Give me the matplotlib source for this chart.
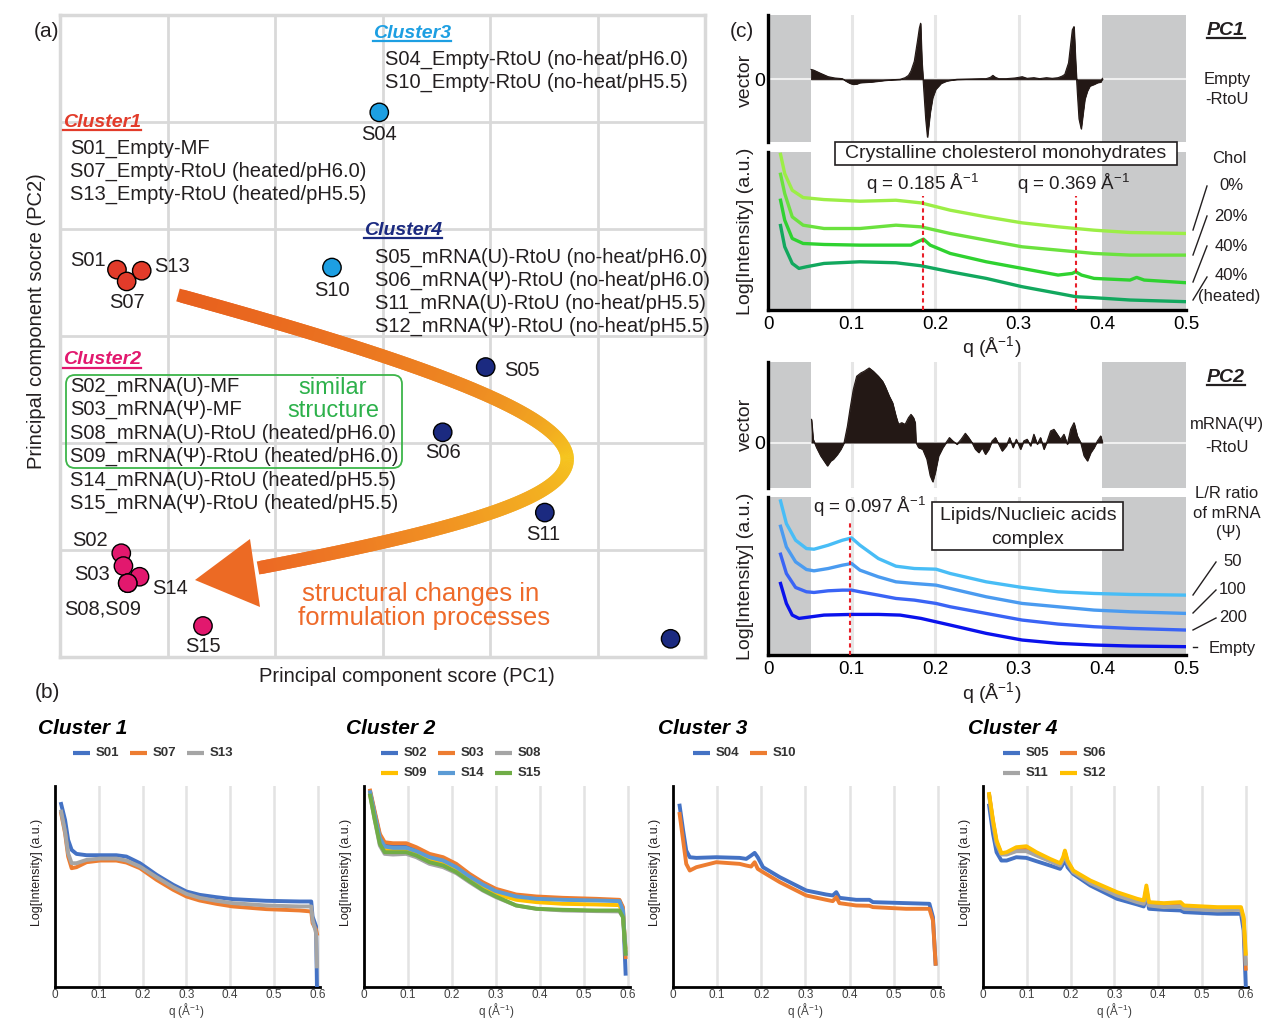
import numpy as np
import matplotlib
matplotlib.use('Agg')
import matplotlib.pyplot as plt
from matplotlib.collections import LineCollection
from matplotlib.patches import FancyBboxPatch, Polygon, Rectangle
from matplotlib.colors import LinearSegmentedColormap

plt.rcParams['font.family'] = ['Liberation Sans', 'DejaVu Sans']
plt.rcParams['mathtext.fontset'] = 'custom'
plt.rcParams['mathtext.rm'] = 'Liberation Sans'
plt.rcParams['mathtext.it'] = 'Liberation Sans:italic'
plt.rcParams['mathtext.bf'] = 'Liberation Sans:bold'

INK = '#231F20'
W, H = 1262, 1018

# ======================= DATA =======================
# (a) PCA scores (grid units)
pca_samples = ['S01', 'S07', 'S13', 'S04', 'S10', 'S05', 'S06', 'S11', 'S12',
               'S02', 'S03', 'S14', 'S08', 'S09', 'S15']
pca_cluster = [1, 1, 1, 3, 3, 4, 4, 4, 4, 2, 2, 2, 2, 2, 2]
pc1_score = [0.53, 0.62, 0.76, 2.97, 2.53, 3.96, 3.56, 4.51, 5.68,
             0.57, 0.59, 0.74, 0.63, 0.63, 1.33]
pc2_score = [3.62, 3.51, 3.61, 5.09, 3.64, 2.71, 2.10, 1.35, 0.17,
             0.97, 0.85, 0.75, 0.69, 0.69, 0.29]
cluster_colors = {1: '#E23B2A', 2: '#E2186E', 3: '#1D9FE2', 4: '#1B2A80'}

# (c) PC1 loading vector
pc1_vector = [(0.0515, 0.30), (0.0545, 0.28), (0.063, 0.18), (0.072, 0.08), (0.080, 0.04),
              (0.089, 0.02), (0.093, -0.05), (0.098, -0.12), (0.102, -0.15), (0.106, -0.14),
              (0.110, -0.10), (0.116, -0.09), (0.123, -0.08), (0.130, -0.06), (0.140, -0.03),
              (0.150, -0.01), (0.158, 0.00), (0.164, 0.05), (0.168, 0.12), (0.171, 0.25),
              (0.175, 0.55), (0.179, 1.20), (0.181, 1.55), (0.1825, 1.70), (0.184, 0.60),
              (0.186, -0.20), (0.1886, -1.20), (0.1907, -1.75), (0.194, -1.00), (0.197, -0.55),
              (0.2006, -0.30), (0.207, -0.12), (0.2135, -0.05), (0.220, -0.02), (0.226, 0.00),
              (0.240, 0.01), (0.255, 0.02), (0.261, 0.02), (0.266, 0.06), (0.269, 0.12),
              (0.272, 0.06), (0.276, 0.02), (0.285, 0.02), (0.295, 0.04), (0.300, 0.06),
              (0.304, 0.08), (0.310, 0.03), (0.318, 0.05), (0.325, 0.02), (0.333, 0.05),
              (0.340, 0.03), (0.347, 0.05), (0.352, 0.10), (0.355, 0.15), (0.3595, 0.50),
              (0.364, 1.50), (0.366, 1.60), (0.368, 0.50), (0.370, -0.40), (0.372, -1.20),
              (0.3746, -1.50), (0.377, -1.00), (0.379, -0.60), (0.382, -0.35), (0.385, -0.20),
              (0.390, -0.15), (0.394, -0.10), (0.398, -0.08), (0.400, 0.03)]

# (c) PC2 loading vector
pc2_vector = [(0.052, 0.70), (0.054, 0.10), (0.058, -0.15), (0.063, -0.40), (0.067, -0.55),
              (0.071, -0.70), (0.075, -0.55), (0.078, -0.50), (0.083, -0.35), (0.087, -0.20),
              (0.091, 0.00), (0.095, 0.50), (0.098, 1.00), (0.102, 1.60), (0.106, 2.00),
              (0.111, 2.10), (0.115, 2.15), (0.121, 2.25), (0.126, 2.15), (0.132, 2.00),
              (0.137, 1.85), (0.140, 1.70), (0.145, 1.40), (0.149, 1.20), (0.153, 0.80),
              (0.156, 0.55), (0.160, 0.60), (0.164, 0.55), (0.168, 0.75), (0.171, 0.85),
              (0.174, 0.75), (0.176, 0.60), (0.177, 0.00), (0.180, -0.15), (0.185, -0.20),
              (0.190, -0.50), (0.194, -1.00), (0.197, -1.18), (0.200, -0.90), (0.204, -0.40),
              (0.209, -0.15), (0.213, 0.00), (0.217, 0.15), (0.221, 0.05), (0.226, -0.05),
              (0.231, 0.10), (0.236, 0.28), (0.240, 0.15), (0.244, 0.00), (0.248, -0.20),
              (0.252, -0.30), (0.256, -0.15), (0.260, -0.35), (0.264, -0.20), (0.268, 0.05),
              (0.272, 0.15), (0.276, -0.05), (0.280, -0.25), (0.285, -0.10), (0.289, 0.15),
              (0.293, -0.15), (0.297, 0.10), (0.302, -0.20), (0.306, 0.05), (0.310, 0.10),
              (0.314, -0.10), (0.318, 0.25), (0.322, -0.05), (0.326, 0.15), (0.330, -0.20),
              (0.334, 0.05), (0.338, 0.35), (0.342, 0.40), (0.346, 0.25), (0.350, 0.10),
              (0.354, 0.25), (0.358, -0.05), (0.362, 0.40), (0.366, 0.60), (0.370, 0.20),
              (0.374, 0.00), (0.378, -0.40), (0.382, -0.55), (0.386, -0.30), (0.390, -0.15),
              (0.394, 0.05), (0.398, 0.20), (0.400, 0.00)]

# (c) PC1 SAXS profiles (cholesterol series)
q_chol = [0.015, 0.020, 0.029, 0.042, 0.067, 0.110, 0.153, 0.183, 0.218, 0.261, 0.304,
          0.347, 0.390, 0.433, 0.500]
chol_0 = [4.68, 4.10, 3.60, 3.38, 3.32, 3.27, 3.30, 3.22, 3.00, 2.80, 2.62, 2.50, 2.40, 2.33, 2.30]
chol_20 = [4.08, 3.50, 2.80, 2.55, 2.45, 2.45, 2.55, 2.50, 2.30, 2.10, 1.90, 1.80, 1.70, 1.65, 1.65]
q_chol40 = [0.015, 0.020, 0.029, 0.042, 0.067, 0.110, 0.153, 0.171, 0.179, 0.186, 0.194, 0.218,
            0.261, 0.304, 0.347, 0.364, 0.368, 0.375, 0.390, 0.433, 0.441, 0.450, 0.500]
chol_40 = [3.30, 2.70, 2.15, 2.00, 1.97, 1.95, 1.95, 1.95, 2.05, 2.13, 1.95, 1.70,
           1.45, 1.25, 1.05, 1.10, 1.15, 1.05, 0.95, 0.90, 0.98, 0.90, 0.82]
q_chol40h = [0.015, 0.020, 0.029, 0.037, 0.046, 0.067, 0.110, 0.153, 0.183, 0.218, 0.261,
             0.304, 0.347, 0.368, 0.390, 0.433, 0.500]
chol_40h = [2.54, 1.90, 1.40, 1.25, 1.30, 1.40, 1.45, 1.42, 1.33, 1.15, 0.95,
            0.70, 0.50, 0.40, 0.37, 0.30, 0.25]

# (c) PC2 SAXS profiles (L/R ratio series)
q_lr = [0.015, 0.022, 0.033, 0.046, 0.055, 0.072, 0.089, 0.100, 0.110, 0.132, 0.153, 0.175,
        0.201, 0.218, 0.261, 0.304, 0.347, 0.390, 0.433, 0.500]
lr_50 = [4.63, 3.95, 3.45, 3.20, 3.18, 3.30, 3.45, 3.52, 3.30, 2.90, 2.67, 2.60,
         2.58, 2.45, 2.20, 2.03, 1.90, 1.85, 1.82, 1.80]
lr_100 = [3.87, 3.25, 2.80, 2.57, 2.53, 2.60, 2.70, 2.75, 2.55, 2.35, 2.20, 2.15,
          2.10, 2.00, 1.75, 1.55, 1.45, 1.35, 1.30, 1.25]
lr_200 = [3.03, 2.45, 2.03, 1.90, 1.88, 1.93, 1.95, 1.95, 1.90, 1.80, 1.70, 1.65,
          1.55, 1.45, 1.25, 1.05, 0.93, 0.85, 0.80, 0.75]
q_empty = [0.015, 0.022, 0.029, 0.037, 0.046, 0.067, 0.100, 0.132, 0.158, 0.183, 0.218,
           0.261, 0.304, 0.347, 0.390, 0.433, 0.500]
lr_empty = [2.15, 1.55, 1.20, 1.10, 1.13, 1.20, 1.22, 1.22, 1.20, 1.10, 0.90,
            0.65, 0.45, 0.35, 0.30, 0.27, 0.25]

# (b) Cluster profiles
q_c1 = [0.014, 0.023, 0.030, 0.038, 0.049, 0.072, 0.103, 0.140, 0.163, 0.194, 0.232,
        0.270, 0.300, 0.330, 0.368, 0.406, 0.482, 0.558, 0.585, 0.588, 0.596, 0.598]
c1_S01 = [5.50, 5.02, 4.42, 4.12, 4.00, 3.96, 3.96, 3.96, 3.92, 3.72, 3.37,
          3.07, 2.87, 2.77, 2.70, 2.64, 2.59, 2.57, 2.57, 2.12, 1.82, 0.02]
c1_S07 = [5.22, 4.62, 3.92, 3.57, 3.60, 3.75, 3.80, 3.80, 3.74, 3.57, 3.22,
          2.92, 2.72, 2.60, 2.50, 2.42, 2.34, 2.30, 2.27, 1.92, 1.72, 1.60]
c1_S13 = [5.27, 4.67, 4.02, 3.72, 3.72, 3.82, 3.86, 3.86, 3.80, 3.62, 3.30,
          3.00, 2.80, 2.68, 2.59, 2.52, 2.45, 2.42, 2.42, 2.02, 1.62, 0.62]

q_c2 = [0.014, 0.024, 0.036, 0.047, 0.066, 0.096, 0.119, 0.149, 0.180, 0.210, 0.240,
        0.270, 0.300, 0.346, 0.392, 0.452, 0.528, 0.581, 0.589, 0.595]
c2_S02 = [5.85, 5.25, 4.55, 4.30, 4.28, 4.28, 4.15, 3.96, 3.86, 3.66, 3.37,
          3.12, 2.92, 2.75, 2.68, 2.64, 2.62, 2.60, 2.35, 0.40]
c2_S03 = [5.90, 5.30, 4.60, 4.35, 4.32, 4.32, 4.20, 4.00, 3.90, 3.70, 3.40,
          3.15, 2.95, 2.78, 2.72, 2.68, 2.65, 2.62, 2.40, 0.90]
c2_S08 = [5.75, 5.05, 4.25, 4.00, 3.98, 4.00, 3.90, 3.70, 3.60, 3.42, 3.15,
          2.90, 2.70, 2.45, 2.35, 2.30, 2.28, 2.27, 2.10, 1.20]
c2_S09 = [5.80, 5.15, 4.40, 4.12, 4.10, 4.12, 4.02, 3.82, 3.72, 3.52, 3.25,
          3.00, 2.80, 2.62, 2.55, 2.50, 2.48, 2.46, 2.20, 1.10]
c2_S14 = [5.85, 5.20, 4.48, 4.22, 4.18, 4.18, 4.08, 3.90, 3.80, 3.60, 3.32,
          3.08, 2.88, 2.72, 2.65, 2.62, 2.60, 2.58, 2.30, 1.00]
c2_S15 = [5.75, 5.05, 4.30, 4.05, 4.05, 4.05, 3.95, 3.75, 3.65, 3.45, 3.18,
          2.92, 2.72, 2.45, 2.35, 2.32, 2.30, 2.30, 2.10, 1.00]

q_c3 = [0.015, 0.023, 0.030, 0.038, 0.053, 0.098, 0.151, 0.166, 0.177, 0.185, 0.192, 0.204,
        0.242, 0.302, 0.347, 0.362, 0.370, 0.377, 0.415, 0.445, 0.453, 0.528, 0.581, 0.589, 0.595]
c3_S04 = [5.45, 4.70, 4.10, 3.90, 3.88, 3.90, 3.88, 3.85, 3.95, 4.03, 3.90, 3.60,
          3.30, 2.90, 2.78, 2.75, 2.85, 2.68, 2.62, 2.62, 2.55, 2.52, 2.50, 2.10, 0.70]
c3_S10 = [5.20, 4.40, 3.70, 3.50, 3.60, 3.75, 3.70, 3.65, 3.62, 3.75, 3.55, 3.45,
          3.15, 2.75, 2.62, 2.58, 2.70, 2.52, 2.45, 2.44, 2.40, 2.35, 2.35, 2.00, 0.70]

q_c4 = [0.014, 0.023, 0.031, 0.042, 0.054, 0.076, 0.099, 0.122, 0.153, 0.176, 0.183, 0.187,
        0.193, 0.206, 0.245, 0.306, 0.352, 0.367, 0.373, 0.379, 0.413, 0.451, 0.459, 0.535,
        0.589, 0.595, 0.600]
c4_S05 = [5.45, 4.60, 4.05, 3.80, 3.80, 3.90, 3.88, 3.78, 3.65, 3.55, 3.70, 3.90, 3.60,
          3.40, 3.05, 2.65, 2.48, 2.42, 2.82, 2.35, 2.32, 2.30, 2.25, 2.20, 2.20, 1.70, 0.00]
c4_S06 = [5.78, 4.95, 4.35, 4.00, 4.00, 4.12, 4.12, 3.98, 3.80, 3.68, 3.85, 4.05, 3.75,
          3.48, 3.15, 2.78, 2.58, 2.52, 2.95, 2.48, 2.42, 2.45, 2.38, 2.32, 2.34, 2.02, 0.55]
c4_S11 = [5.75, 4.90, 4.30, 3.98, 3.98, 4.08, 4.08, 3.95, 3.78, 3.65, 3.82, 4.02, 3.72,
          3.45, 3.12, 2.75, 2.55, 2.50, 2.92, 2.45, 2.40, 2.42, 2.35, 2.30, 2.32, 2.00, 0.70]
c4_S12 = [5.80, 5.00, 4.40, 4.02, 4.05, 4.20, 4.23, 4.05, 3.85, 3.72, 3.90, 4.10, 3.80,
          3.50, 3.20, 2.85, 2.65, 2.60, 3.05, 2.55, 2.52, 2.55, 2.45, 2.40, 2.40, 2.10, 1.00]

b_ticks = [0, 0.1, 0.2, 0.3, 0.4, 0.5, 0.6]
b_tick_labels = ['0', '0.1', '0.2', '0.3', '0.4', '0.5', '0.6']
c_ticks = [0, 0.1, 0.2, 0.3, 0.4, 0.5]
c_tick_labels = ['0', '0.1', '0.2', '0.3', '0.4', '0.5']

XL_BLUE, XL_ORANGE, XL_GRAY = '#4472C4', '#ED7D31', '#A5A5A5'
XL_YELLOW, XL_LBLUE, XL_GREEN = '#FFC000', '#5B9BD5', '#70AD47'

# ======================= FIGURE =======================
fig = plt.figure(figsize=(W / 100, H / 100), dpi=100)


def rect(l, t, r, b):
    return [l / W, 1 - b / H, (r - l) / W, (b - t) / H]


ov = fig.add_axes([0, 0, 1, 1], zorder=20)
ov.set_xlim(0, W)
ov.set_ylim(H, 0)
ov.axis('off')
ov.patch.set_alpha(0)


def T(x, y, s, size=14.5, color=INK, ha='left', va='center', **kw):
    return ov.text(x, y, s, fontsize=size, color=color, ha=ha, va=va, **kw)


underlines = []


def UT(x, y, s, color, size, ha='left'):
    t = T(x, y, s, size=size, color=color, ha=ha, fontweight='bold', fontstyle='italic')
    underlines.append((t, color))
    return t


# ---------------- panel (a) ----------------
axa = fig.add_axes(rect(60, 15, 705, 657), zorder=1)
axa.set_xlim(0, 6)
axa.set_ylim(0, 6)
axa.set_xticks(range(1, 6))
axa.set_yticks(range(1, 6))
axa.tick_params(length=0, labelbottom=False, labelleft=False)
axa.grid(True, color='#D9D9D9', lw=2)
axa.set_axisbelow(True)
for s in axa.spines.values():
    s.set_color('#D9D9D9')
    s.set_linewidth(2.5)
axa.scatter(pc1_score, pc2_score, s=175,
            c=[cluster_colors[c] for c in pca_cluster],
            edgecolors='black', linewidths=1.0, zorder=5)

# curved gradient arrow (cubic Bezier in pixel space)
P0, P1, P2, P3 = (np.array([178, 295]), np.array([706, 440]),
                  np.array([661, 491]), np.array([258, 568]))
tt = np.linspace(0, 1, 400)
pts = (((1 - tt) ** 3)[:, None] * P0 + (3 * tt * (1 - tt) ** 2)[:, None] * P1
       + (3 * tt ** 2 * (1 - tt))[:, None] * P2 + (tt ** 3)[:, None] * P3)
segs = [pts[i:i + 3] for i in range(len(pts) - 2)]
cmap = LinearSegmentedColormap.from_list('arr', ['#E8601E', '#EE8A22', '#F5C51E', '#F2A222', '#EC6A24'])
lc = LineCollection(segs, cmap=cmap, linewidths=9.5, capstyle='butt')
lc.set_array(tt[:-2])
ov.add_collection(lc)
ov.add_patch(Polygon([[195, 580], [250, 539], [260, 607]], closed=True,
                     facecolor='#EC6A24', edgecolor='none'))

# panel (a) texts
T(34, 31, '(a)', size=15)
T(35, 692, '(b)', size=15)
T(730, 31, '(c)', size=15)

UT(373, 33, 'Cluster3', cluster_colors[3], 14)
T(385, 59, 'S04_Empty-RtoU (no-heat/pH6.0)')
T(385, 82, 'S10_Empty-RtoU (no-heat/pH5.5)')
UT(63, 122, 'Cluster1', cluster_colors[1], 14)
T(70, 148, 'S01_Empty-MF')
T(70, 171, 'S07_Empty-RtoU (heated/pH6.0)')
T(70, 194, 'S13_Empty-RtoU (heated/pH5.5)')
UT(364, 230, 'Cluster4', cluster_colors[4], 14)
T(375, 257, 'S05_mRNA(U)-RtoU (no-heat/pH6.0)')
T(375, 280, 'S06_mRNA(Ψ)-RtoU (no-heat/pH6.0)')
T(375, 303, 'S11_mRNA(U)-RtoU (no-heat/pH5.5)')
T(375, 326, 'S12_mRNA(Ψ)-RtoU (no-heat/pH5.5)')
UT(63, 360, 'Cluster2', cluster_colors[2], 14)
T(70, 386, 'S02_mRNA(U)-MF')
T(70, 409, 'S03_mRNA(Ψ)-MF')
T(70, 433, 'S08_mRNA(U)-RtoU (heated/pH6.0)')
T(70, 456, 'S09_mRNA(Ψ)-RtoU (heated/pH6.0)')
T(70, 480, 'S14_mRNA(U)-RtoU (heated/pH5.5)')
T(70, 503, 'S15_mRNA(Ψ)-RtoU (heated/pH5.5)')
ov.add_patch(FancyBboxPatch((66, 375), 336, 93, boxstyle='round,pad=0,rounding_size=9',
                            facecolor='none', edgecolor='#3DB54A', lw=1.3))
T(333, 388, 'similar', size=17, color='#2DB14B', ha='center')
T(333, 411, 'structure', size=17, color='#2DB14B', ha='center')
T(421, 594, 'structural changes in', size=18.5, color='#EE6A2A', ha='center')
T(424, 618, 'formulation processes', size=18.5, color='#EE6A2A', ha='center')

point_label_pos = {'S01': (88, 260), 'S13': (172, 266), 'S07': (127, 302), 'S04': (379, 134),
                   'S10': (332, 290), 'S05': (522, 371), 'S06': (443, 453), 'S11': (543, 534),
                   'S02': (90, 540), 'S03': (92, 575), 'S14': (170, 589), 'S08,S09': (103, 609),
                   'S15': (203, 646)}
for lab, (x, y) in point_label_pos.items():
    T(x, y, lab, ha='center')

T(407, 677, 'Principal component score (PC1)', ha='center')
T(37, 321, 'Principal component socre (PC2)', ha='center', rotation=90)

# ---------------- panel (c) ----------------
SHADE = '#C9CACB'
GRIDC = '#E6E6E6'


def base_c_axes(t, b):
    ax = fig.add_axes(rect(768, t, 1186, b), zorder=2)
    ax.set_xlim(0, 0.5)
    ax.axvspan(0, 0.052, color=SHADE, lw=0, zorder=0)
    ax.axvspan(0.4, 0.5, color=SHADE, lw=0, zorder=0)
    for g in (0.1, 0.2, 0.3):
        ax.axvline(g, color=GRIDC, lw=2.2, zorder=0.5)
    for s in ('top', 'right', 'bottom'):
        ax.spines[s].set_visible(False)
    ax.spines['left'].set_linewidth(2.4)
    ax.spines['left'].set_color('black')
    return ax


def vector_axes(t, b, vec, ylo, yhi):
    ax = base_c_axes(t, b)
    ax.set_ylim(ylo, yhi)
    ax.axhline(0, color='#F0F0F0', lw=1.5, zorder=1)
    q = [p[0] for p in vec]
    v = [p[1] for p in vec]
    ax.fill_between(q, 0, v, color='#231815', lw=0.6, zorder=2)
    ax.plot(q, v, color='#231815', lw=0.8, zorder=2)
    ax.set_xticks([])
    ax.set_yticks([0])
    ax.set_yticklabels(['0'], fontsize=14)
    ax.tick_params(axis='y', length=0, pad=2)
    return ax


def log_axes(t, b):
    ax = base_c_axes(t, b)
    ax.spines['bottom'].set_visible(True)
    ax.spines['bottom'].set_linewidth(2.4)
    ax.set_ylim(0, 4.75)
    ax.set_yticks([])
    ax.set_xticks(c_ticks)
    ax.set_xticklabels(c_tick_labels, fontsize=13.5)
    ax.tick_params(axis='x', length=0, pad=4)
    return ax


v1 = vector_axes(15, 142, pc1_vector, -1.90, 1.95)
l1 = log_axes(152, 310)
for q, y, col in [(q_chol, chol_0, '#9CEE46'), (q_chol, chol_20, '#6BE23E'),
                  (q_chol40, chol_40, '#2FD230'), (q_chol40h, chol_40h, '#12A85E')]:
    l1.plot(q, y, color=col, lw=2.4, zorder=3)
for pk in (0.185, 0.369):
    l1.plot([pk, pk], [0, 3.42], color='#E8202A', lw=1.5, ls=(0, (2, 1.6)), zorder=4)

v2 = vector_axes(362, 488, pc2_vector, -1.37, 2.43)
l2 = log_axes(497, 655)
for q, y, col in [(q_lr, lr_50, '#48BDF6'), (q_lr, lr_100, '#4A9BF0'),
                  (q_lr, lr_200, '#3A64F5'), (q_empty, lr_empty, '#0A12EC')]:
    l2.plot(q, y, color=col, lw=2.4, zorder=3)
l2.plot([0.098, 0.098], [0, 4.07], color='#E8202A', lw=1.5, ls=(0, (2, 1.6)), zorder=4)

for yc in (80, 424):
    T(745, yc, 'vector', size=14, ha='center', rotation=90)
for yc in (231, 576):
    T(745, yc, 'Log[Intensity] (a.u.)', size=14, ha='center', rotation=90)
T(992, 347, r'q (Å$^{\mathregular{-1}}$)', size=14, ha='center')
T(992, 693, r'q (Å$^{\mathregular{-1}}$)', size=14, ha='center')

# PC1 annotations
UT(1226, 30, 'PC1', INK, 14, ha='center')
T(1227, 79, 'Empty', size=12, ha='center')
T(1227, 99, '-RtoU', size=12, ha='center')
ov.add_patch(Rectangle((835, 142), 342, 23, facecolor='white', edgecolor=INK, lw=1.2, zorder=5))
T(1006, 153, 'Crystalline cholesterol monohydrates', size=14, ha='center', zorder=6)
T(923, 184, r'q = 0.185 Å$^{\mathregular{-1}}$', size=13.5, ha='center')
T(1074, 184, r'q = 0.369 Å$^{\mathregular{-1}}$', size=13.5, ha='center')
T(1229, 158, 'Chol', size=12, ha='center')
for y, s in [(185, '0%'), (216, '20%'), (246, '40%'), (275, '40%'), (297, '(heated)')]:
    T(1231 if s != '(heated)' else 1229, y, s, size=12, ha='center')
for (x0, y0, x1, y1) in [(1193, 230, 1207, 186), (1193, 255, 1207, 216),
                         (1193, 282, 1207, 246), (1193, 300, 1207, 277)]:
    ov.plot([x0, x1], [y0, y1], color=INK, lw=1)

# PC2 annotations
UT(1226, 377, 'PC2', INK, 14, ha='center')
T(1190, 425, 'mRNA(Ψ)', size=12)
T(1227, 448, '-RtoU', size=12, ha='center')
T(1227, 493, 'L/R ratio', size=12, ha='center')
T(1193, 513, 'of mRNA', size=12)
T(1229, 533, '(Ψ)', size=12, ha='center')
for y, s in [(562, '50'), (590, '100'), (618, '200')]:
    T(1233, y, s, size=12, ha='center')
T(1209, 648, 'Empty', size=12)
for (x0, y0, x1, y1) in [(1193, 595, 1216, 562), (1193, 613, 1216, 590),
                         (1193, 630, 1216, 618), (1193, 647, 1197, 647)]:
    ov.plot([x0, x1], [y0, y1], color=INK, lw=1)
ov.add_patch(Rectangle((932, 502), 191, 48, facecolor='white', edgecolor=INK, lw=1.2, zorder=5))
T(1028, 516, 'Lipids/Nuclieic acids', size=14, ha='center', zorder=6)
T(1028, 539, 'complex', size=14, ha='center', zorder=6)
T(870, 507, r'q = 0.097 Å$^{\mathregular{-1}}$', size=13.5, ha='center')

# ---------------- panel (b) ----------------
b_specs = [
    (55, 320, 'Cluster 1', q_c1, 3, [('S01', c1_S01, XL_BLUE), ('S07', c1_S07, XL_ORANGE),
                                      ('S13', c1_S13, XL_GRAY)]),
    (364, 630, 'Cluster 2', q_c2, 3, [('S02', c2_S02, XL_BLUE), ('S03', c2_S03, XL_ORANGE),
                                       ('S08', c2_S08, XL_GRAY), ('S09', c2_S09, XL_YELLOW),
                                       ('S14', c2_S14, XL_LBLUE), ('S15', c2_S15, XL_GREEN)]),
    (673, 940, 'Cluster 3', q_c3, 2, [('S04', c3_S04, XL_BLUE), ('S10', c3_S10, XL_ORANGE)]),
    (983, 1248, 'Cluster 4', q_c4, 2, [('S05', c4_S05, XL_BLUE), ('S06', c4_S06, XL_ORANGE),
                                        ('S11', c4_S11, XL_GRAY), ('S12', c4_S12, XL_YELLOW)]),
]
title_x = [38, 346, 658, 968]
for k, (l, r, title, q, ncol, series) in enumerate(b_specs):
    ax = fig.add_axes(rect(l, 786, r, 987), zorder=2)
    ax.set_xlim(0, 0.605)
    ax.set_ylim(0, 6.04)
    for g in b_ticks[1:]:
        ax.axvline(g, color='#E3E3E3', lw=1.8, zorder=0)
    for name, y, col in series:
        ax.plot(q, y, color=col, lw=2.8, zorder=3)
    for s in ('top', 'right'):
        ax.spines[s].set_visible(False)
    for s in ('left', 'bottom'):
        ax.spines[s].set_linewidth(2.0)
        ax.spines[s].set_color('black')
    ax.set_yticks([])
    ax.set_xticks(b_ticks)
    ax.set_xticklabels(b_tick_labels, fontsize=8.5, color='#404040')
    ax.tick_params(axis='x', length=0, pad=1.5)
    xpix = l + 0.3 * (r - l) / 0.605
    T(xpix, 1010, r'q (Å$^{\mathregular{-1}}$)', size=8.5, ha='center', color='#404040')
    T(l - 18, 872, 'Log[Intensity] (a.u.)', size=9, ha='center', rotation=90, color=INK)
    T(title_x[k], 728, title, size=15, fontweight='bold', fontstyle='italic', color='black')
    # legend
    x0 = title_x[k] + 35
    for i, (name, y, col) in enumerate(series):
        row, colidx = divmod(i, ncol)
        lx = x0 + colidx * 57
        ly = 753 + row * 20
        ov.plot([lx, lx + 17], [ly, ly], color=col, lw=3.0, solid_capstyle='butt')
        T(lx + 23, ly, name, size=9.5, fontweight='bold', color='#333333')

# underlines
fig.canvas.draw()
inv = ov.transData.inverted()
for t, col in underlines:
    bb = t.get_window_extent()
    (xa, ya), (xb, yb) = inv.transform([[bb.x0, bb.y0], [bb.x1, bb.y1]])
    ov.plot([xa, xb], [max(ya, yb) - 1, max(ya, yb) - 1], color=col, lw=1.6)

fig.savefig('out.png', dpi=100)
